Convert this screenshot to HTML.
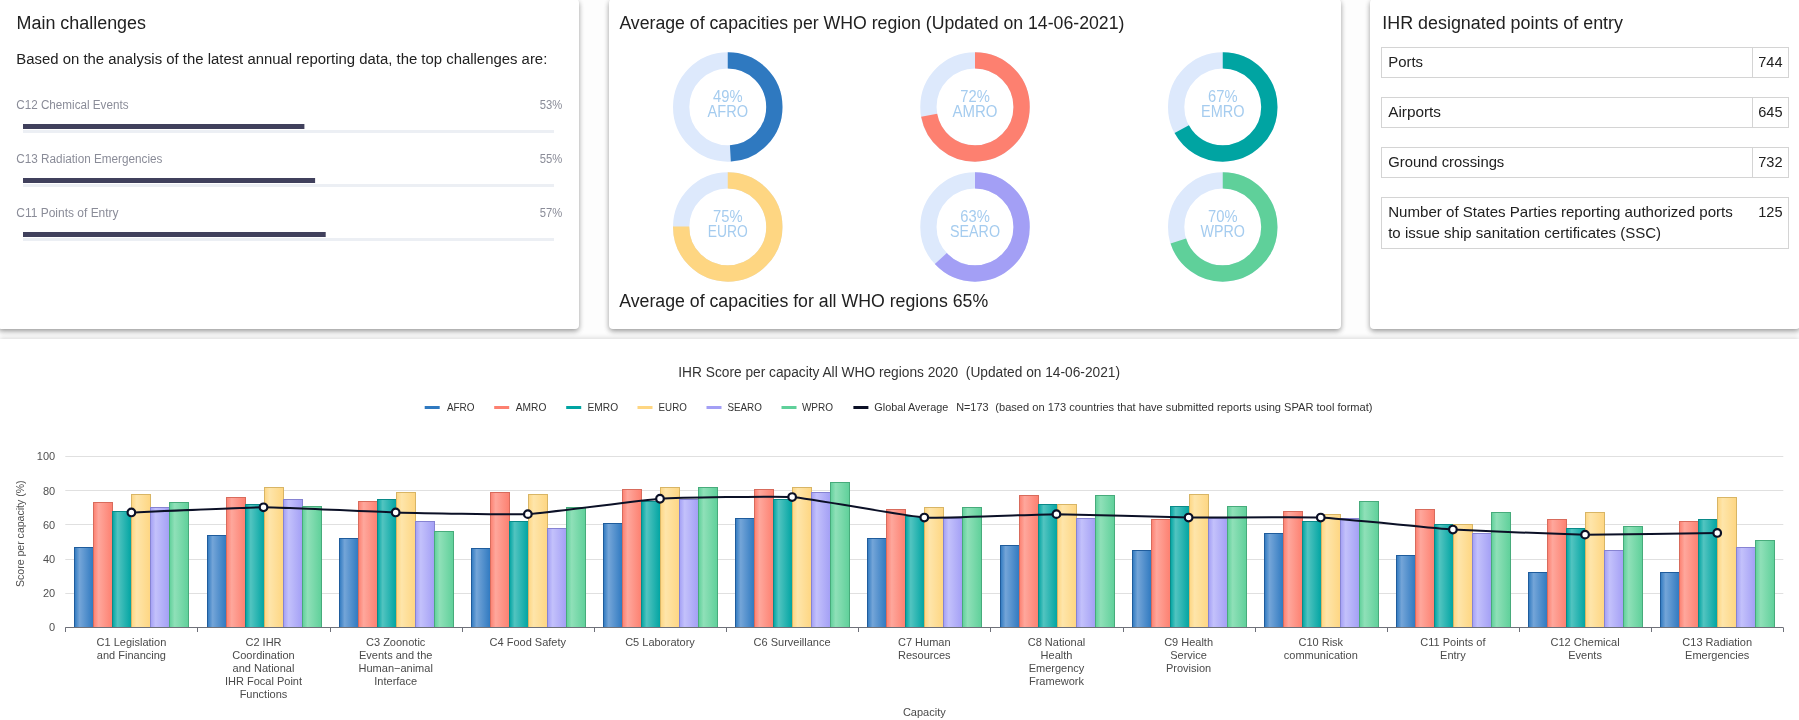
<!DOCTYPE html>
<html><head><meta charset="utf-8"><style>
html,body{margin:0;padding:0}
body{width:1799px;height:720px;overflow:hidden;background:#fdfdfd;position:relative;font-family:"Liberation Sans", sans-serif}
.p{position:absolute;top:-1px;height:330px;background:#fff;border-radius:4px;box-shadow:0 2px 5px 0 rgba(0,0,0,0.3), 0 3px 7px -1px rgba(0,0,0,0.15)}
.bot{position:absolute;left:0;top:339px;width:1799px;height:381px;background:#fff;box-shadow:0 -1px 5px rgba(0,0,0,0.15)}
svg{position:absolute;left:0;top:0;will-change:transform}
text{font-family:"Liberation Sans", sans-serif}
</style></head><body>
<div class="p" style="left:-2px;width:581px"></div>
<div class="p" style="left:609px;width:732px"></div>
<div class="p" style="left:1370px;width:430px"></div>
<div class="bot"></div>
<svg width="1799" height="720" viewBox="0 0 1799 720"><defs><linearGradient id="g0" x1="0" y1="0" x2="1" y2="0"><stop offset="0" stop-color="#2f79c0"/><stop offset="0.27" stop-color="#74a5d8"/><stop offset="1" stop-color="#2f79c0"/></linearGradient><linearGradient id="g1" x1="0" y1="0" x2="1" y2="0"><stop offset="0" stop-color="#fd8070"/><stop offset="0.27" stop-color="#fea79c"/><stop offset="1" stop-color="#fd8070"/></linearGradient><linearGradient id="g2" x1="0" y1="0" x2="1" y2="0"><stop offset="0" stop-color="#00a4a2"/><stop offset="0.27" stop-color="#52c4c0"/><stop offset="1" stop-color="#00a4a2"/></linearGradient><linearGradient id="g3" x1="0" y1="0" x2="1" y2="0"><stop offset="0" stop-color="#fed682"/><stop offset="0.27" stop-color="#fee5aa"/><stop offset="1" stop-color="#fed682"/></linearGradient><linearGradient id="g4" x1="0" y1="0" x2="1" y2="0"><stop offset="0" stop-color="#a39ff5"/><stop offset="0.27" stop-color="#c3c1fb"/><stop offset="1" stop-color="#a39ff5"/></linearGradient><linearGradient id="g5" x1="0" y1="0" x2="1" y2="0"><stop offset="0" stop-color="#5fd09a"/><stop offset="0.27" stop-color="#8fe0b8"/><stop offset="1" stop-color="#5fd09a"/></linearGradient></defs>
<text x="16.5" y="29" font-size="18" fill="#212121" text-anchor="start" textLength="129.5" lengthAdjust="spacingAndGlyphs">Main challenges</text>
<text x="16.3" y="64" font-size="15.5" fill="#212121" text-anchor="start" textLength="531" lengthAdjust="spacingAndGlyphs">Based on the analysis of the latest annual reporting data, the top challenges are:</text>
<text x="16.3" y="109" font-size="12" fill="#8a8c98" text-anchor="start" textLength="112.2" lengthAdjust="spacingAndGlyphs">C12 Chemical Events</text>
<text x="562.3" y="109" font-size="12" fill="#8a8c98" text-anchor="end" textLength="22.5" lengthAdjust="spacingAndGlyphs">53%</text>
<rect x="23" y="130" width="531" height="3" fill="#eceff4"/>
<rect x="23" y="124" width="281.4" height="5" fill="#40405c"/>
<text x="16.3" y="163" font-size="12" fill="#8a8c98" text-anchor="start" textLength="146.2" lengthAdjust="spacingAndGlyphs">C13 Radiation Emergencies</text>
<text x="562.3" y="163" font-size="12" fill="#8a8c98" text-anchor="end" textLength="22.5" lengthAdjust="spacingAndGlyphs">55%</text>
<rect x="23" y="184" width="531" height="3" fill="#eceff4"/>
<rect x="23" y="178" width="292.1" height="5" fill="#40405c"/>
<text x="16.3" y="217" font-size="12" fill="#8a8c98" text-anchor="start" textLength="102.3" lengthAdjust="spacingAndGlyphs">C11 Points of Entry</text>
<text x="562.3" y="217" font-size="12" fill="#8a8c98" text-anchor="end" textLength="22.5" lengthAdjust="spacingAndGlyphs">57%</text>
<rect x="23" y="238" width="531" height="3" fill="#eceff4"/>
<rect x="23" y="232" width="302.7" height="5" fill="#40405c"/>
<text x="619.4" y="29" font-size="18" fill="#212121" text-anchor="start" textLength="505" lengthAdjust="spacingAndGlyphs">Average of capacities per WHO region (Updated on 14-06-2021)</text>
<text x="619.2" y="307" font-size="18" fill="#212121" text-anchor="start" textLength="369" lengthAdjust="spacingAndGlyphs">Average of capacities for all WHO regions 65%</text>
<circle cx="727.75" cy="106.9" r="46.6" fill="none" stroke="#dde9fc" stroke-width="16.3"/>
<circle cx="727.75" cy="106.9" r="46.6" fill="none" stroke="#2f79c0" stroke-width="16.3" stroke-dasharray="143.47 292.80" transform="rotate(-90 727.75 106.9)"/>
<text x="727.75" y="101.9" font-size="16" fill="#a5ccef" text-anchor="middle" textLength="29.5" lengthAdjust="spacingAndGlyphs">49%</text>
<text x="727.75" y="116.60000000000001" font-size="16" fill="#a5ccef" text-anchor="middle" textLength="40.5" lengthAdjust="spacingAndGlyphs">AFRO</text>
<circle cx="975.0" cy="106.9" r="46.6" fill="none" stroke="#dde9fc" stroke-width="16.3"/>
<circle cx="975.0" cy="106.9" r="46.6" fill="none" stroke="#fd8070" stroke-width="16.3" stroke-dasharray="210.81 292.80" transform="rotate(-90 975.0 106.9)"/>
<text x="975.0" y="101.9" font-size="16" fill="#a5ccef" text-anchor="middle" textLength="29.5" lengthAdjust="spacingAndGlyphs">72%</text>
<text x="975.0" y="116.60000000000001" font-size="16" fill="#a5ccef" text-anchor="middle" textLength="45" lengthAdjust="spacingAndGlyphs">AMRO</text>
<circle cx="1222.75" cy="106.9" r="46.6" fill="none" stroke="#dde9fc" stroke-width="16.3"/>
<circle cx="1222.75" cy="106.9" r="46.6" fill="none" stroke="#00a4a2" stroke-width="16.3" stroke-dasharray="196.17 292.80" transform="rotate(-90 1222.75 106.9)"/>
<text x="1222.75" y="101.9" font-size="16" fill="#a5ccef" text-anchor="middle" textLength="29.5" lengthAdjust="spacingAndGlyphs">67%</text>
<text x="1222.75" y="116.60000000000001" font-size="16" fill="#a5ccef" text-anchor="middle" textLength="43.5" lengthAdjust="spacingAndGlyphs">EMRO</text>
<circle cx="727.75" cy="226.9" r="46.6" fill="none" stroke="#dde9fc" stroke-width="16.3"/>
<circle cx="727.75" cy="226.9" r="46.6" fill="none" stroke="#fed682" stroke-width="16.3" stroke-dasharray="219.60 292.80" transform="rotate(-90 727.75 226.9)"/>
<text x="727.75" y="221.9" font-size="16" fill="#a5ccef" text-anchor="middle" textLength="29.5" lengthAdjust="spacingAndGlyphs">75%</text>
<text x="727.75" y="236.6" font-size="16" fill="#a5ccef" text-anchor="middle" textLength="40" lengthAdjust="spacingAndGlyphs">EURO</text>
<circle cx="975.0" cy="226.9" r="46.6" fill="none" stroke="#dde9fc" stroke-width="16.3"/>
<circle cx="975.0" cy="226.9" r="46.6" fill="none" stroke="#a39ff5" stroke-width="16.3" stroke-dasharray="184.46 292.80" transform="rotate(-90 975.0 226.9)"/>
<text x="975.0" y="221.9" font-size="16" fill="#a5ccef" text-anchor="middle" textLength="29.5" lengthAdjust="spacingAndGlyphs">63%</text>
<text x="975.0" y="236.6" font-size="16" fill="#a5ccef" text-anchor="middle" textLength="50" lengthAdjust="spacingAndGlyphs">SEARO</text>
<circle cx="1222.75" cy="226.9" r="46.6" fill="none" stroke="#dde9fc" stroke-width="16.3"/>
<circle cx="1222.75" cy="226.9" r="46.6" fill="none" stroke="#5fd09a" stroke-width="16.3" stroke-dasharray="204.96 292.80" transform="rotate(-90 1222.75 226.9)"/>
<text x="1222.75" y="221.9" font-size="16" fill="#a5ccef" text-anchor="middle" textLength="29.5" lengthAdjust="spacingAndGlyphs">70%</text>
<text x="1222.75" y="236.6" font-size="16" fill="#a5ccef" text-anchor="middle" textLength="44.5" lengthAdjust="spacingAndGlyphs">WPRO</text>
<text x="1382.3" y="29" font-size="18" fill="#212121" text-anchor="start" textLength="240.7" lengthAdjust="spacingAndGlyphs">IHR designated points of entry</text>
<rect x="1381.5" y="47.5" width="407" height="30" fill="none" stroke="#d4d4d4" stroke-width="1"/>
<line x1="1752.5" y1="47" x2="1752.5" y2="78" stroke="#d4d4d4" stroke-width="1"/>
<text x="1388.2" y="66.8" font-size="15" fill="#212121" text-anchor="start" textLength="34.8" lengthAdjust="spacingAndGlyphs">Ports</text>
<text x="1782.5" y="66.8" font-size="15" fill="#212121" text-anchor="end" textLength="24.3" lengthAdjust="spacingAndGlyphs">744</text>
<rect x="1381.5" y="97.5" width="407" height="30" fill="none" stroke="#d4d4d4" stroke-width="1"/>
<line x1="1752.5" y1="97" x2="1752.5" y2="128" stroke="#d4d4d4" stroke-width="1"/>
<text x="1388.2" y="116.8" font-size="15" fill="#212121" text-anchor="start" textLength="52.8" lengthAdjust="spacingAndGlyphs">Airports</text>
<text x="1782.5" y="116.8" font-size="15" fill="#212121" text-anchor="end" textLength="24.3" lengthAdjust="spacingAndGlyphs">645</text>
<rect x="1381.5" y="147.5" width="407" height="30" fill="none" stroke="#d4d4d4" stroke-width="1"/>
<line x1="1752.5" y1="147" x2="1752.5" y2="178" stroke="#d4d4d4" stroke-width="1"/>
<text x="1388.2" y="166.8" font-size="15" fill="#212121" text-anchor="start" textLength="116.1" lengthAdjust="spacingAndGlyphs">Ground crossings</text>
<text x="1782.5" y="166.8" font-size="15" fill="#212121" text-anchor="end" textLength="24.3" lengthAdjust="spacingAndGlyphs">732</text>
<rect x="1381.5" y="197.5" width="407" height="51" fill="none" stroke="#d4d4d4" stroke-width="1"/>
<text x="1388.2" y="216.8" font-size="15" fill="#212121" text-anchor="start" textLength="344.6" lengthAdjust="spacingAndGlyphs">Number of States Parties reporting authorized ports</text>
<text x="1388.2" y="237.8" font-size="15" fill="#212121" text-anchor="start" textLength="272.9" lengthAdjust="spacingAndGlyphs">to issue ship sanitation certificates (SSC)</text>
<text x="1782.5" y="216.8" font-size="15" fill="#212121" text-anchor="end" textLength="24.3" lengthAdjust="spacingAndGlyphs">125</text>
<text x="678.3" y="376.8" font-size="14" fill="#333333" text-anchor="start" textLength="441.7" lengthAdjust="spacingAndGlyphs" xml:space="preserve">IHR Score per capacity All WHO regions 2020  (Updated on 14-06-2021)</text>
<rect x="424.7" y="406" width="15" height="3" fill="#2f79c0"/>
<text x="446.9" y="410.9" font-size="11" fill="#333333" text-anchor="start" textLength="27.6" lengthAdjust="spacingAndGlyphs">AFRO</text>
<rect x="494.2" y="406" width="15" height="3" fill="#fd8070"/>
<text x="515.8" y="410.9" font-size="11" fill="#333333" text-anchor="start" textLength="30.6" lengthAdjust="spacingAndGlyphs">AMRO</text>
<rect x="566.2" y="406" width="15" height="3" fill="#00a4a2"/>
<text x="587.5" y="410.9" font-size="11" fill="#333333" text-anchor="start" textLength="30.6" lengthAdjust="spacingAndGlyphs">EMRO</text>
<rect x="637.5" y="406" width="15" height="3" fill="#fed682"/>
<text x="658.6" y="410.9" font-size="11" fill="#333333" text-anchor="start" textLength="28.2" lengthAdjust="spacingAndGlyphs">EURO</text>
<rect x="706.5" y="406" width="15" height="3" fill="#a39ff5"/>
<text x="727.4" y="410.9" font-size="11" fill="#333333" text-anchor="start" textLength="34.5" lengthAdjust="spacingAndGlyphs">SEARO</text>
<rect x="781.5" y="406" width="15" height="3" fill="#5fd09a"/>
<text x="801.9" y="410.9" font-size="11" fill="#333333" text-anchor="start" textLength="31.2" lengthAdjust="spacingAndGlyphs">WPRO</text>
<rect x="853.4" y="406" width="15" height="3" fill="#0b1026"/>
<text x="874.3" y="410.9" font-size="11" fill="#333333" text-anchor="start" textLength="74" lengthAdjust="spacingAndGlyphs">Global Average</text>
<text x="956.2" y="410.9" font-size="11" fill="#333333" text-anchor="start" textLength="32.3" lengthAdjust="spacingAndGlyphs">N=173</text>
<text x="995.3" y="410.9" font-size="11" fill="#333333" text-anchor="start" textLength="377.2" lengthAdjust="spacingAndGlyphs">(based on 173 countries that have submitted reports using SPAR tool format)</text>
<line x1="65.3" y1="593.5" x2="1783.3" y2="593.5" stroke="#e0e0e0" stroke-width="1"/>
<line x1="65.3" y1="559.5" x2="1783.3" y2="559.5" stroke="#e0e0e0" stroke-width="1"/>
<line x1="65.3" y1="524.5" x2="1783.3" y2="524.5" stroke="#e0e0e0" stroke-width="1"/>
<line x1="65.3" y1="490.5" x2="1783.3" y2="490.5" stroke="#e0e0e0" stroke-width="1"/>
<line x1="65.3" y1="456.5" x2="1783.3" y2="456.5" stroke="#e0e0e0" stroke-width="1"/>
<text x="55.2" y="631.3" font-size="11" fill="#505050" text-anchor="end">0</text>
<text x="55.2" y="597.0999999999999" font-size="11" fill="#505050" text-anchor="end">20</text>
<text x="55.2" y="562.9" font-size="11" fill="#505050" text-anchor="end">40</text>
<text x="55.2" y="528.6999999999999" font-size="11" fill="#505050" text-anchor="end">60</text>
<text x="55.2" y="494.5" font-size="11" fill="#505050" text-anchor="end">80</text>
<text x="55.2" y="460.3" font-size="11" fill="#505050" text-anchor="end">100</text>
<text x="0" y="0" font-size="11" fill="#505050" text-anchor="middle" textLength="106.5" lengthAdjust="spacingAndGlyphs" transform="translate(23.7 533.7) rotate(-90)">Score per capacity (%)</text>
<rect x="74.5" y="547.5" width="19" height="80" fill="url(#g0)" stroke="#1f5c9c" stroke-width="1"/>
<rect x="93.5" y="502.5" width="19" height="125" fill="url(#g1)" stroke="#d86b5c" stroke-width="1"/>
<rect x="112.5" y="511.5" width="19" height="116" fill="url(#g2)" stroke="#0a8a88" stroke-width="1"/>
<rect x="131.5" y="494.5" width="19" height="133" fill="url(#g3)" stroke="#d8b565" stroke-width="1"/>
<rect x="150.5" y="507.5" width="19" height="120" fill="url(#g4)" stroke="#8683d2" stroke-width="1"/>
<rect x="169.5" y="502.5" width="19" height="125" fill="url(#g5)" stroke="#47ab7b" stroke-width="1"/>
<rect x="207.5" y="535.5" width="19" height="92" fill="url(#g0)" stroke="#1f5c9c" stroke-width="1"/>
<rect x="226.5" y="497.5" width="19" height="130" fill="url(#g1)" stroke="#d86b5c" stroke-width="1"/>
<rect x="245.5" y="504.5" width="19" height="123" fill="url(#g2)" stroke="#0a8a88" stroke-width="1"/>
<rect x="264.5" y="487.5" width="19" height="140" fill="url(#g3)" stroke="#d8b565" stroke-width="1"/>
<rect x="283.5" y="499.5" width="19" height="128" fill="url(#g4)" stroke="#8683d2" stroke-width="1"/>
<rect x="302.5" y="506.5" width="19" height="121" fill="url(#g5)" stroke="#47ab7b" stroke-width="1"/>
<rect x="339.5" y="538.5" width="19" height="89" fill="url(#g0)" stroke="#1f5c9c" stroke-width="1"/>
<rect x="358.5" y="501.5" width="19" height="126" fill="url(#g1)" stroke="#d86b5c" stroke-width="1"/>
<rect x="377.5" y="499.5" width="19" height="128" fill="url(#g2)" stroke="#0a8a88" stroke-width="1"/>
<rect x="396.5" y="492.5" width="19" height="135" fill="url(#g3)" stroke="#d8b565" stroke-width="1"/>
<rect x="415.5" y="521.5" width="19" height="106" fill="url(#g4)" stroke="#8683d2" stroke-width="1"/>
<rect x="434.5" y="531.5" width="19" height="96" fill="url(#g5)" stroke="#47ab7b" stroke-width="1"/>
<rect x="471.5" y="548.5" width="19" height="79" fill="url(#g0)" stroke="#1f5c9c" stroke-width="1"/>
<rect x="490.5" y="492.5" width="19" height="135" fill="url(#g1)" stroke="#d86b5c" stroke-width="1"/>
<rect x="509.5" y="521.5" width="19" height="106" fill="url(#g2)" stroke="#0a8a88" stroke-width="1"/>
<rect x="528.5" y="494.5" width="19" height="133" fill="url(#g3)" stroke="#d8b565" stroke-width="1"/>
<rect x="547.5" y="528.5" width="19" height="99" fill="url(#g4)" stroke="#8683d2" stroke-width="1"/>
<rect x="566.5" y="507.5" width="19" height="120" fill="url(#g5)" stroke="#47ab7b" stroke-width="1"/>
<rect x="603.5" y="523.5" width="19" height="104" fill="url(#g0)" stroke="#1f5c9c" stroke-width="1"/>
<rect x="622.5" y="489.5" width="19" height="138" fill="url(#g1)" stroke="#d86b5c" stroke-width="1"/>
<rect x="641.5" y="501.5" width="19" height="126" fill="url(#g2)" stroke="#0a8a88" stroke-width="1"/>
<rect x="660.5" y="487.5" width="19" height="140" fill="url(#g3)" stroke="#d8b565" stroke-width="1"/>
<rect x="679.5" y="499.5" width="19" height="128" fill="url(#g4)" stroke="#8683d2" stroke-width="1"/>
<rect x="698.5" y="487.5" width="19" height="140" fill="url(#g5)" stroke="#47ab7b" stroke-width="1"/>
<rect x="735.5" y="518.5" width="19" height="109" fill="url(#g0)" stroke="#1f5c9c" stroke-width="1"/>
<rect x="754.5" y="489.5" width="19" height="138" fill="url(#g1)" stroke="#d86b5c" stroke-width="1"/>
<rect x="773.5" y="499.5" width="19" height="128" fill="url(#g2)" stroke="#0a8a88" stroke-width="1"/>
<rect x="792.5" y="487.5" width="19" height="140" fill="url(#g3)" stroke="#d8b565" stroke-width="1"/>
<rect x="811.5" y="492.5" width="19" height="135" fill="url(#g4)" stroke="#8683d2" stroke-width="1"/>
<rect x="830.5" y="482.5" width="19" height="145" fill="url(#g5)" stroke="#47ab7b" stroke-width="1"/>
<rect x="867.5" y="538.5" width="19" height="89" fill="url(#g0)" stroke="#1f5c9c" stroke-width="1"/>
<rect x="886.5" y="509.5" width="19" height="118" fill="url(#g1)" stroke="#d86b5c" stroke-width="1"/>
<rect x="905.5" y="516.5" width="19" height="111" fill="url(#g2)" stroke="#0a8a88" stroke-width="1"/>
<rect x="924.5" y="507.5" width="19" height="120" fill="url(#g3)" stroke="#d8b565" stroke-width="1"/>
<rect x="943.5" y="518.5" width="19" height="109" fill="url(#g4)" stroke="#8683d2" stroke-width="1"/>
<rect x="962.5" y="507.5" width="19" height="120" fill="url(#g5)" stroke="#47ab7b" stroke-width="1"/>
<rect x="1000.5" y="545.5" width="19" height="82" fill="url(#g0)" stroke="#1f5c9c" stroke-width="1"/>
<rect x="1019.5" y="495.5" width="19" height="132" fill="url(#g1)" stroke="#d86b5c" stroke-width="1"/>
<rect x="1038.5" y="504.5" width="19" height="123" fill="url(#g2)" stroke="#0a8a88" stroke-width="1"/>
<rect x="1057.5" y="504.5" width="19" height="123" fill="url(#g3)" stroke="#d8b565" stroke-width="1"/>
<rect x="1076.5" y="518.5" width="19" height="109" fill="url(#g4)" stroke="#8683d2" stroke-width="1"/>
<rect x="1095.5" y="495.5" width="19" height="132" fill="url(#g5)" stroke="#47ab7b" stroke-width="1"/>
<rect x="1132.5" y="550.5" width="19" height="77" fill="url(#g0)" stroke="#1f5c9c" stroke-width="1"/>
<rect x="1151.5" y="519.5" width="19" height="108" fill="url(#g1)" stroke="#d86b5c" stroke-width="1"/>
<rect x="1170.5" y="506.5" width="19" height="121" fill="url(#g2)" stroke="#0a8a88" stroke-width="1"/>
<rect x="1189.5" y="494.5" width="19" height="133" fill="url(#g3)" stroke="#d8b565" stroke-width="1"/>
<rect x="1208.5" y="518.5" width="19" height="109" fill="url(#g4)" stroke="#8683d2" stroke-width="1"/>
<rect x="1227.5" y="506.5" width="19" height="121" fill="url(#g5)" stroke="#47ab7b" stroke-width="1"/>
<rect x="1264.5" y="533.5" width="19" height="94" fill="url(#g0)" stroke="#1f5c9c" stroke-width="1"/>
<rect x="1283.5" y="511.5" width="19" height="116" fill="url(#g1)" stroke="#d86b5c" stroke-width="1"/>
<rect x="1302.5" y="521.5" width="19" height="106" fill="url(#g2)" stroke="#0a8a88" stroke-width="1"/>
<rect x="1321.5" y="514.5" width="19" height="113" fill="url(#g3)" stroke="#d8b565" stroke-width="1"/>
<rect x="1340.5" y="518.5" width="19" height="109" fill="url(#g4)" stroke="#8683d2" stroke-width="1"/>
<rect x="1359.5" y="501.5" width="19" height="126" fill="url(#g5)" stroke="#47ab7b" stroke-width="1"/>
<rect x="1396.5" y="555.5" width="19" height="72" fill="url(#g0)" stroke="#1f5c9c" stroke-width="1"/>
<rect x="1415.5" y="509.5" width="19" height="118" fill="url(#g1)" stroke="#d86b5c" stroke-width="1"/>
<rect x="1434.5" y="524.5" width="19" height="103" fill="url(#g2)" stroke="#0a8a88" stroke-width="1"/>
<rect x="1453.5" y="524.5" width="19" height="103" fill="url(#g3)" stroke="#d8b565" stroke-width="1"/>
<rect x="1472.5" y="533.5" width="19" height="94" fill="url(#g4)" stroke="#8683d2" stroke-width="1"/>
<rect x="1491.5" y="512.5" width="19" height="115" fill="url(#g5)" stroke="#47ab7b" stroke-width="1"/>
<rect x="1528.5" y="572.5" width="19" height="55" fill="url(#g0)" stroke="#1f5c9c" stroke-width="1"/>
<rect x="1547.5" y="519.5" width="19" height="108" fill="url(#g1)" stroke="#d86b5c" stroke-width="1"/>
<rect x="1566.5" y="528.5" width="19" height="99" fill="url(#g2)" stroke="#0a8a88" stroke-width="1"/>
<rect x="1585.5" y="512.5" width="19" height="115" fill="url(#g3)" stroke="#d8b565" stroke-width="1"/>
<rect x="1604.5" y="550.5" width="19" height="77" fill="url(#g4)" stroke="#8683d2" stroke-width="1"/>
<rect x="1623.5" y="526.5" width="19" height="101" fill="url(#g5)" stroke="#47ab7b" stroke-width="1"/>
<rect x="1660.5" y="572.5" width="19" height="55" fill="url(#g0)" stroke="#1f5c9c" stroke-width="1"/>
<rect x="1679.5" y="521.5" width="19" height="106" fill="url(#g1)" stroke="#d86b5c" stroke-width="1"/>
<rect x="1698.5" y="519.5" width="19" height="108" fill="url(#g2)" stroke="#0a8a88" stroke-width="1"/>
<rect x="1717.5" y="497.5" width="19" height="130" fill="url(#g3)" stroke="#d8b565" stroke-width="1"/>
<rect x="1736.5" y="547.5" width="19" height="80" fill="url(#g4)" stroke="#8683d2" stroke-width="1"/>
<rect x="1755.5" y="540.5" width="19" height="87" fill="url(#g5)" stroke="#47ab7b" stroke-width="1"/>
<line x1="65.3" y1="627.5" x2="1783.3" y2="627.5" stroke="#6e7079" stroke-width="1"/>
<line x1="65.5" y1="627.5" x2="65.5" y2="632" stroke="#6e7079" stroke-width="1"/>
<line x1="197.5" y1="627.5" x2="197.5" y2="632" stroke="#6e7079" stroke-width="1"/>
<line x1="330.5" y1="627.5" x2="330.5" y2="632" stroke="#6e7079" stroke-width="1"/>
<line x1="462.5" y1="627.5" x2="462.5" y2="632" stroke="#6e7079" stroke-width="1"/>
<line x1="594.5" y1="627.5" x2="594.5" y2="632" stroke="#6e7079" stroke-width="1"/>
<line x1="726.5" y1="627.5" x2="726.5" y2="632" stroke="#6e7079" stroke-width="1"/>
<line x1="858.5" y1="627.5" x2="858.5" y2="632" stroke="#6e7079" stroke-width="1"/>
<line x1="990.5" y1="627.5" x2="990.5" y2="632" stroke="#6e7079" stroke-width="1"/>
<line x1="1123.5" y1="627.5" x2="1123.5" y2="632" stroke="#6e7079" stroke-width="1"/>
<line x1="1255.5" y1="627.5" x2="1255.5" y2="632" stroke="#6e7079" stroke-width="1"/>
<line x1="1387.5" y1="627.5" x2="1387.5" y2="632" stroke="#6e7079" stroke-width="1"/>
<line x1="1519.5" y1="627.5" x2="1519.5" y2="632" stroke="#6e7079" stroke-width="1"/>
<line x1="1651.5" y1="627.5" x2="1651.5" y2="632" stroke="#6e7079" stroke-width="1"/>
<line x1="1783.5" y1="627.5" x2="1783.5" y2="632" stroke="#6e7079" stroke-width="1"/>
<text x="131.4" y="646" font-size="11" fill="#4a4a4a" text-anchor="middle">C1 Legislation</text>
<text x="131.4" y="659" font-size="11" fill="#4a4a4a" text-anchor="middle">and Financing</text>
<text x="263.5" y="646" font-size="11" fill="#4a4a4a" text-anchor="middle">C2 IHR</text>
<text x="263.5" y="659" font-size="11" fill="#4a4a4a" text-anchor="middle">Coordination</text>
<text x="263.5" y="672" font-size="11" fill="#4a4a4a" text-anchor="middle">and National</text>
<text x="263.5" y="685" font-size="11" fill="#4a4a4a" text-anchor="middle">IHR Focal Point</text>
<text x="263.5" y="698" font-size="11" fill="#4a4a4a" text-anchor="middle">Functions</text>
<text x="395.7" y="646" font-size="11" fill="#4a4a4a" text-anchor="middle">C3 Zoonotic</text>
<text x="395.7" y="659" font-size="11" fill="#4a4a4a" text-anchor="middle">Events and the</text>
<text x="395.7" y="672" font-size="11" fill="#4a4a4a" text-anchor="middle">Human−animal</text>
<text x="395.7" y="685" font-size="11" fill="#4a4a4a" text-anchor="middle">Interface</text>
<text x="527.8" y="646" font-size="11" fill="#4a4a4a" text-anchor="middle">C4 Food Safety</text>
<text x="660.0" y="646" font-size="11" fill="#4a4a4a" text-anchor="middle">C5 Laboratory</text>
<text x="792.1" y="646" font-size="11" fill="#4a4a4a" text-anchor="middle">C6 Surveillance</text>
<text x="924.3" y="646" font-size="11" fill="#4a4a4a" text-anchor="middle">C7 Human</text>
<text x="924.3" y="659" font-size="11" fill="#4a4a4a" text-anchor="middle">Resources</text>
<text x="1056.5" y="646" font-size="11" fill="#4a4a4a" text-anchor="middle">C8 National</text>
<text x="1056.5" y="659" font-size="11" fill="#4a4a4a" text-anchor="middle">Health</text>
<text x="1056.5" y="672" font-size="11" fill="#4a4a4a" text-anchor="middle">Emergency</text>
<text x="1056.5" y="685" font-size="11" fill="#4a4a4a" text-anchor="middle">Framework</text>
<text x="1188.6" y="646" font-size="11" fill="#4a4a4a" text-anchor="middle">C9 Health</text>
<text x="1188.6" y="659" font-size="11" fill="#4a4a4a" text-anchor="middle">Service</text>
<text x="1188.6" y="672" font-size="11" fill="#4a4a4a" text-anchor="middle">Provision</text>
<text x="1320.8" y="646" font-size="11" fill="#4a4a4a" text-anchor="middle">C10 Risk</text>
<text x="1320.8" y="659" font-size="11" fill="#4a4a4a" text-anchor="middle">communication</text>
<text x="1452.9" y="646" font-size="11" fill="#4a4a4a" text-anchor="middle">C11 Points of</text>
<text x="1452.9" y="659" font-size="11" fill="#4a4a4a" text-anchor="middle">Entry</text>
<text x="1585.1" y="646" font-size="11" fill="#4a4a4a" text-anchor="middle">C12 Chemical</text>
<text x="1585.1" y="659" font-size="11" fill="#4a4a4a" text-anchor="middle">Events</text>
<text x="1717.2" y="646" font-size="11" fill="#4a4a4a" text-anchor="middle">C13 Radiation</text>
<text x="1717.2" y="659" font-size="11" fill="#4a4a4a" text-anchor="middle">Emergencies</text>
<text x="924.3" y="715.8" font-size="11" fill="#4a4a4a" text-anchor="middle">Capacity</text>
<path d="M131.38,512.43 C139.31,512.12 247.67,507.30 263.53,507.30 C279.39,507.30 379.83,512.02 395.68,512.43 C411.54,512.84 511.98,514.96 527.84,514.14 C543.70,513.32 644.13,499.78 659.99,498.75 C675.85,497.72 776.29,495.91 792.15,497.04 C808.00,498.17 908.44,516.53 924.30,517.56 C940.16,518.59 1040.60,514.14 1056.45,514.14 C1072.31,514.14 1172.75,517.35 1188.61,517.56 C1204.47,517.77 1304.90,516.84 1320.76,517.56 C1336.62,518.28 1437.06,528.50 1452.92,529.53 C1468.77,530.56 1569.21,534.45 1585.07,534.66 C1600.93,534.87 1709.29,533.05 1717.22,532.95" fill="none" stroke="#0b1026" stroke-width="2"/>
<circle cx="131.38" cy="512.43" r="3.8" fill="#ffffff" stroke="#0b1026" stroke-width="2.2"/>
<circle cx="263.53" cy="507.30" r="3.8" fill="#ffffff" stroke="#0b1026" stroke-width="2.2"/>
<circle cx="395.68" cy="512.43" r="3.8" fill="#ffffff" stroke="#0b1026" stroke-width="2.2"/>
<circle cx="527.84" cy="514.14" r="3.8" fill="#ffffff" stroke="#0b1026" stroke-width="2.2"/>
<circle cx="659.99" cy="498.75" r="3.8" fill="#ffffff" stroke="#0b1026" stroke-width="2.2"/>
<circle cx="792.15" cy="497.04" r="3.8" fill="#ffffff" stroke="#0b1026" stroke-width="2.2"/>
<circle cx="924.30" cy="517.56" r="3.8" fill="#ffffff" stroke="#0b1026" stroke-width="2.2"/>
<circle cx="1056.45" cy="514.14" r="3.8" fill="#ffffff" stroke="#0b1026" stroke-width="2.2"/>
<circle cx="1188.61" cy="517.56" r="3.8" fill="#ffffff" stroke="#0b1026" stroke-width="2.2"/>
<circle cx="1320.76" cy="517.56" r="3.8" fill="#ffffff" stroke="#0b1026" stroke-width="2.2"/>
<circle cx="1452.92" cy="529.53" r="3.8" fill="#ffffff" stroke="#0b1026" stroke-width="2.2"/>
<circle cx="1585.07" cy="534.66" r="3.8" fill="#ffffff" stroke="#0b1026" stroke-width="2.2"/>
<circle cx="1717.22" cy="532.95" r="3.8" fill="#ffffff" stroke="#0b1026" stroke-width="2.2"/>
</svg>
</body></html>
